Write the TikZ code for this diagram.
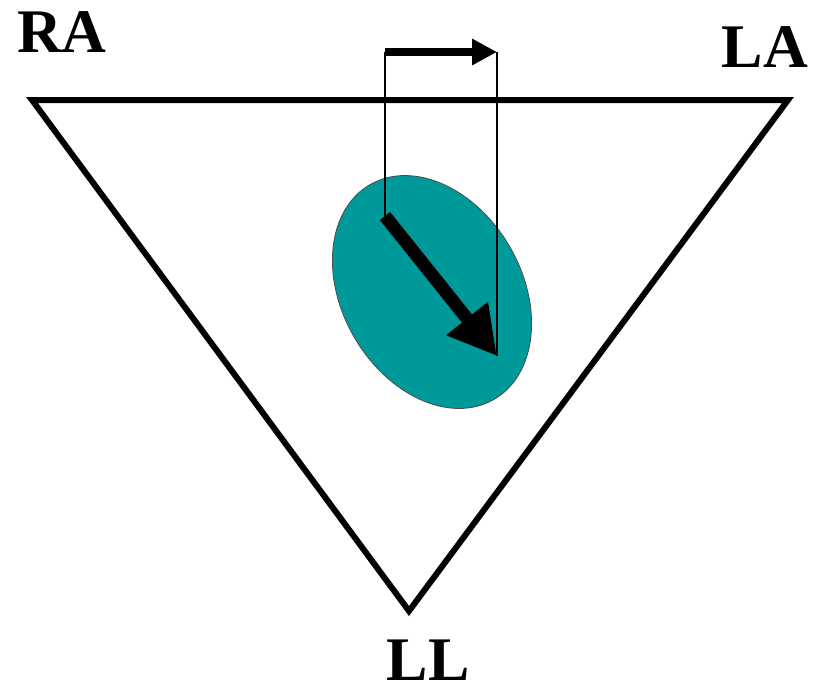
\documentclass[tikz,border=0pt]{standalone}
\usepackage{fontspec}
\setmainfont{Liberation Serif}
\usepackage{tikz}
\usetikzlibrary{arrows.meta}
\definecolor{heartteal}{RGB}{0,153,153}
\tikzset{
  lead/.style={font=\fontsize{62}{64}\selectfont\bfseries,inner sep=0pt},
  side/.style={line width=6pt,line join=miter},
  guide/.style={line width=1.2pt},
  vector/.style={line width=13pt,-{Triangle[length=48pt,width=50pt]}},
  projection/.style={line width=8pt,-{Triangle[length=25pt,width=25pt]}},
}
\begin{document}
\begin{tikzpicture}[x=1pt,y=-1pt]
\useasboundingbox (0,0) rectangle (823,697);
% limb leads
\coordinate (ra) at (32,100);
\coordinate (la) at (788,100);
\coordinate (ll) at (409,611);
\node[lead] (RA) at (62,32) {RA};
\node[lead] (LA) at (765,47) {LA};
\node[lead] (LL) at (428,660) {LL};
\draw[side](ra)--(la)--(ll)--cycle;
% heart
\filldraw[fill=heartteal,draw=black!70,line width=0.8pt,rotate around={30:(432,292)}](432,292)ellipse[x radius=90,y radius=124];
% electrical axis and its projection on lead I
\coordinate (tail) at (385,216);
\coordinate (head) at (497,356);
\coordinate (tailtop) at (385,52);
\coordinate (headtop) at (497,52);
\draw[vector](tail)--(head);
\draw[guide](tail)--(tailtop);
\draw[guide](head)--(headtop);
\draw[projection](tailtop)--(headtop);
\end{tikzpicture}
\end{document}
